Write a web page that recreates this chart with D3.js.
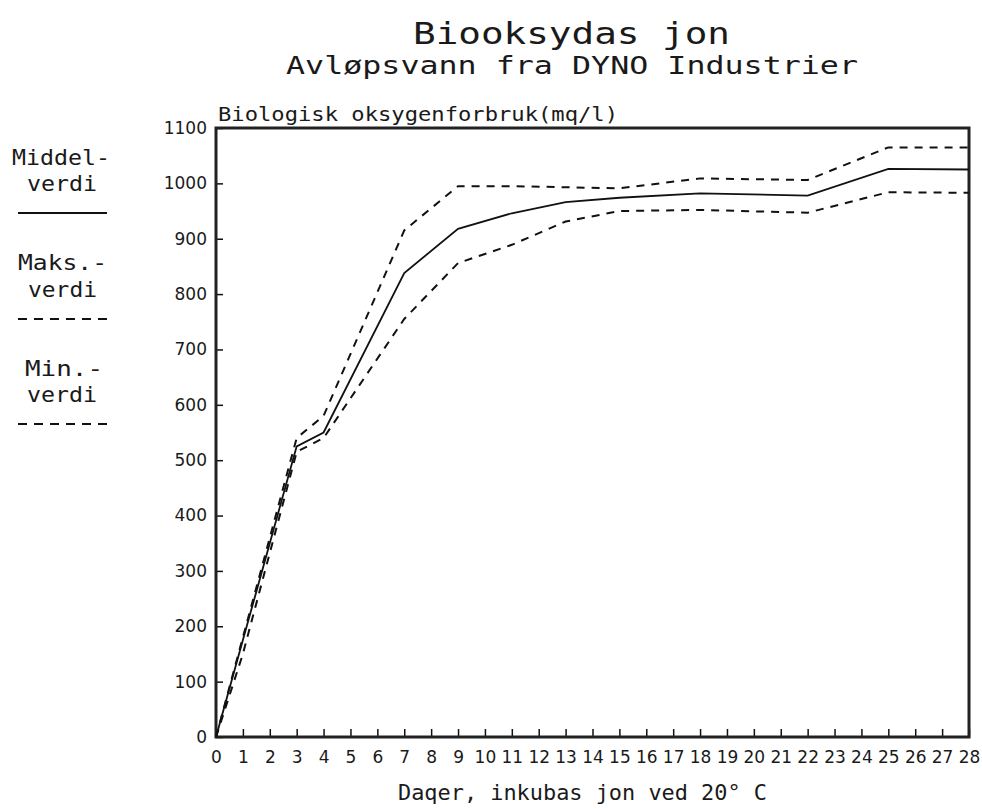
<!DOCTYPE html>
<html>
<head>
<meta charset="utf-8">
<script src="https://cdn.jsdelivr.net/npm/d3@7"></script>
<style>
  body { margin: 0; background: #fff; }
  text { fill: #1a1a1a; }
</style>
</head>
<body>
<div id="viz-container"></div>
<script>
// days of incubation and BOD values (mg/l)
const days = [0, 1, 3, 4, 7, 9, 11, 13, 15, 18, 22, 25, 28];
const middel = [0, 175, 525, 550, 838, 918, 946, 966, 974, 982, 978, 1026, 1025];
const maks = [0, 180, 540, 580, 915, 995, 995, 993, 991, 1009, 1006, 1065, 1065];
const minv = [0, 150, 515, 540, 755, 856, 889, 931, 950, 952, 947, 984, 983];

const xTicks = d3.range(0, 29);
const yTicks = [0, 100, 200, 300, 400, 500, 600, 700, 800, 900, 1000, 1100];

const W = 982, H = 809;
const plotLeft = 216, plotRight = 969, plotTop = 128, plotBottom = 737;

let viz = d3.select("#viz-container")
  .append("svg")
    .attr("width", W)
    .attr("height", H)
    .style("font-family", "'DejaVu Sans Mono', monospace");

let x = d3.scaleLinear().domain([0, 28]).range([plotLeft, plotRight]);
let y = d3.scaleLinear().domain([0, 1100]).range([plotBottom, plotTop]);

// x axis, ticks pointing inside
let xAxis = viz.append("g")
  .attr("transform", `translate(0,${plotBottom})`)
  .call(d3.axisBottom(x).tickValues(xTicks).tickFormat(d3.format("d"))
    .tickSizeInner(-8).tickSizeOuter(0).tickPadding(14));
xAxis.select(".domain").remove();
xAxis.selectAll("line").attr("stroke", "#111").attr("stroke-width", 1.5);
xAxis.selectAll("text")
  .style("font-family", "'DejaVu Sans', sans-serif")
  .style("font-size", "17px")
  .attr("fill", "#111");

// y axis
let yAxis = viz.append("g")
  .attr("transform", `translate(${plotLeft},0)`)
  .call(d3.axisLeft(y).tickValues(yTicks).tickFormat(d3.format("d"))
    .tickSizeInner(-7).tickSizeOuter(0).tickPadding(9));
yAxis.select(".domain").remove();
yAxis.selectAll("line").attr("stroke", "#111").attr("stroke-width", 1.5);
yAxis.selectAll("text")
  .style("font-family", "'DejaVu Sans', sans-serif")
  .style("font-size", "17px")
  .attr("fill", "#111");

// frame
viz.append("rect")
  .attr("x", plotLeft)
  .attr("y", plotTop)
  .attr("width", plotRight - plotLeft)
  .attr("height", plotBottom - plotTop)
  .attr("fill", "none")
  .attr("stroke", "#222")
  .attr("stroke-width", 3);

// lines
let line = d3.line()
  .x((d, i) => x(days[i]))
  .y(d => y(d));

viz.append("path")
  .datum(maks)
  .attr("d", line)
  .attr("fill", "none")
  .attr("stroke", "#111")
  .attr("stroke-width", 2)
  .attr("stroke-dasharray", "8,7");

viz.append("path")
  .datum(minv)
  .attr("d", line)
  .attr("fill", "none")
  .attr("stroke", "#111")
  .attr("stroke-width", 2)
  .attr("stroke-dasharray", "8,7");

viz.append("path")
  .datum(middel)
  .attr("d", line)
  .attr("fill", "none")
  .attr("stroke", "#111")
  .attr("stroke-width", 1.8);

// titles
function label(txt, x0, y0, len, size) {
  viz.append("text")
    .attr("x", x0)
    .attr("y", y0)
    .attr("textLength", len)
    .attr("lengthAdjust", "spacingAndGlyphs")
    .style("font-size", size + "px")
    .text(txt);
}

label("Biooksydas jon", 413, 44, 317, 30);
label("Avløpsvann fra DYNO Industrier", 286, 74, 572, 25);
label("Biologisk oksygenforbruk(mq/l)", 218, 121, 400, 20);
label("Daqer, inkubas jon ved 20° C", 398, 800, 369, 21);

// legend
label("Middel-", 12, 165, 98, 22);
label("verdi", 27, 191, 70, 22);
label("Maks.-", 18, 270, 89, 22);
label("verdi", 28, 297, 69, 22);
label("Min.-", 25, 376, 78, 22);
label("verdi", 27, 402, 70, 22);

viz.append("line")
  .attr("x1", 18).attr("x2", 107)
  .attr("y1", 213).attr("y2", 213)
  .attr("stroke", "#111").attr("stroke-width", 2);

viz.append("line")
  .attr("x1", 18).attr("x2", 107)
  .attr("y1", 319).attr("y2", 319)
  .attr("stroke", "#111").attr("stroke-width", 2)
  .attr("stroke-dasharray", "9,7");

viz.append("line")
  .attr("x1", 18).attr("x2", 107)
  .attr("y1", 424).attr("y2", 424)
  .attr("stroke", "#111").attr("stroke-width", 2)
  .attr("stroke-dasharray", "9,7");
</script>
</body>
</html>
